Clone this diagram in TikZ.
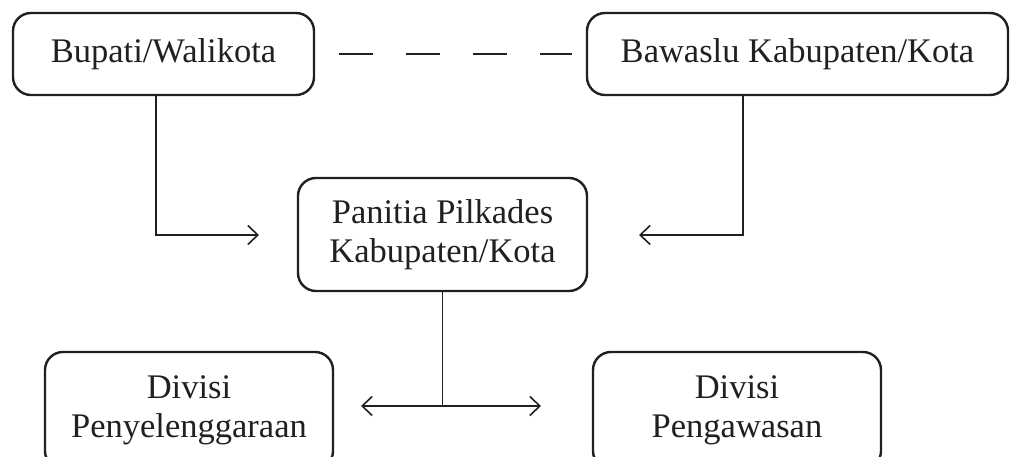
\documentclass[tikz,border=0pt]{standalone}
\usepackage{fontspec}
\setmainfont{Liberation Serif}
\usetikzlibrary{arrows.meta}
\definecolor{ink}{RGB}{35,31,32}
\tikzset{
  box/.style={draw=ink, line width=2.4pt, rounded corners=18pt, align=center,
    text=ink, inner sep=0pt, font=\fontsize{34.5}{39}\selectfont},
  conn/.style={draw=ink, line width=1.6pt},
  tip/.style={-{Straight Barb[length=10pt,width=19pt,line width=1.6pt]}},
  dtip/.style={{Straight Barb[length=10pt,width=19pt,line width=1.6pt]}-{Straight Barb[length=10pt,width=19pt,line width=1.6pt]}},
  dashline/.style={draw=ink, line width=1.6pt, dash pattern=on 34pt off 33pt}
}
\begin{document}
\begin{tikzpicture}[x=1pt,y=-1pt]
\useasboundingbox (0,0) rectangle (1010,457);
\clip (0,0) rectangle (1010,457);
\node[box, minimum width=301pt, minimum height=82pt] (bup) at (163.5,54) {Bupati/Walikota};
\node[box, minimum width=421pt, minimum height=82pt] (baw) at (797.5,54) {Bawaslu Kabupaten/Kota};
\node[box, minimum width=289pt, minimum height=113pt] (pan) at (442.5,234.5) {Panitia Pilkades\\Kabupaten/Kota};
\node[box, minimum width=288pt, minimum height=117pt] (dp) at (189,410.5) {Divisi\\Penyelenggaraan};
\node[box, minimum width=288pt, minimum height=117pt] (dw) at (737,410.5) {Divisi\\Pengawasan};
\coordinate (lt) at (259,235);
\coordinate (rt) at (639,235);
\coordinate (dl) at (361,406);
\coordinate (dr) at (541,406);
\draw[dashline] ([xshift=24pt]bup.east) -- ([xshift=-14pt]baw.west);
\draw[conn, tip] ([xshift=-7.5pt]bup.south) |- (lt);
\draw[conn, tip] ([xshift=-54.5pt]baw.south) |- (rt);
\draw[conn] (pan.south) -- (pan.south |- dl);
\draw[conn, dtip] (dl) -- (dr);
\end{tikzpicture}
\end{document}
